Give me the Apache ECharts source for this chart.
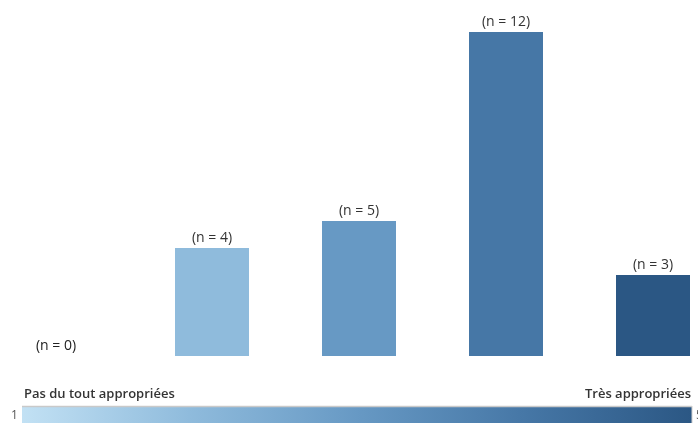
<!DOCTYPE html>
<html>
<head>
<meta charset="utf-8">
<script src="https://cdn.jsdelivr.net/npm/echarts@6/dist/echarts.min.js"></script>
<style>
  html, body { margin: 0; padding: 0; background: #fff; }
  #chart { width: 698px; height: 423px; }
</style>
</head>
<body>
<div id="chart"></div>
<script>
// Appropriateness scale: 1 = not at all appropriate ... 5 = very appropriate
var categories = ['1', '2', '3', '4', '5'];
var scores = [1, 2, 3, 4, 5];
var counts = [0, 4, 5, 12, 3];
var scaleColors = ['#c2e1f4', '#8fbbdc', '#6799c4', '#4677a6', '#2b5784'];
var lowLabel = 'Pas du tout appropriées';
var highLabel = 'Très appropriées';

var chart = echarts.init(document.getElementById('chart'), null, { renderer: 'canvas' });

var seriesData = categories.map(function (c, i) {
  var item = { value: [c, counts[i], scores[i]] };
  if (counts[i] === 0) {
    item.label = { offset: [-9, 0], color: '#222' };
  }
  return item;
});

var font = '"Open Sans", "Noto Sans", sans-serif';

// colour ramp strip shown under the bars
var rampStops = scaleColors.map(function (col, i) {
  return { offset: i / (scaleColors.length - 1), color: col };
});

chart.setOption({
  animation: false,
  title: [
    { text: lowLabel, left: 19, top: 383,
      textStyle: { fontFamily: font, fontSize: 13, fontWeight: 600, color: '#333' } },
    { text: highLabel, right: 2, top: 383,
      textStyle: { fontFamily: font, fontSize: 13, fontWeight: 600, color: '#333' } }
  ],
  grid: { left: -8.5, width: 735, top: 32, bottom: 67, outerBoundsMode: 'none', containLabel: false },
  xAxis: {
    type: 'category',
    data: categories,
    show: false
  },
  yAxis: {
    type: 'value',
    min: 0,
    max: 12,
    show: false
  },
  visualMap: {
    type: 'continuous',
    show: false,
    dimension: 2,
    seriesIndex: 0,
    min: scores[0],
    max: scores[scores.length - 1],
    inRange: { color: scaleColors }
  },
  graphic: [
    { type: 'rect', shape: { x: 22, y: 406, width: 670, height: 20 },
      style: { fill: new echarts.graphic.LinearGradient(0, 0, 1, 0, rampStops) } },
    { type: 'line', shape: { x1: 22, y1: 406.5, x2: 692, y2: 406.5 },
      style: { stroke: '#c9c9c9', lineWidth: 1.5 } },
    { type: 'line', shape: { x1: 692, y1: 406, x2: 692, y2: 423 },
      style: { stroke: '#d0d0d0', lineWidth: 1 } },
    { type: 'text', x: 11, y: 410,
      style: { text: String(scores[0]), fontFamily: font, fontSize: 12, fill: '#555' } },
    { type: 'text', x: 696, y: 410,
      style: { text: String(scores[scores.length - 1]), fontFamily: font, fontSize: 12, fill: '#555' } }
  ],
  series: [{
    type: 'bar',
    data: seriesData,
    barWidth: 74,
    encode: { x: 0, y: 1 },
    label: {
      show: true,
      position: 'top',
      distance: 3,
      fontFamily: font,
      fontSize: 14,
      color: '#333',
      formatter: function (p) { return '(n = ' + p.value[1] + ')'; }
    }
  }]
});
</script>
</body>
</html>
